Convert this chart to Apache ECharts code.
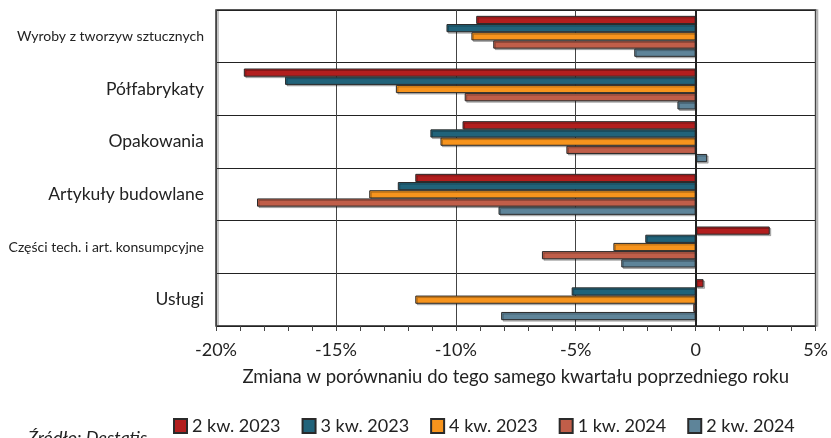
<!DOCTYPE html>
<html><head><meta charset="utf-8">
<script src="https://cdn.jsdelivr.net/npm/echarts@6/dist/echarts.min.js"></script>
<style>html,body{margin:0;padding:0;background:#fff}#c{width:831px;height:438px}</style>
</head><body><div id="c"></div>
<script>
const categories = ["Wyroby z tworzyw sztucznych","Półfabrykaty","Opakowania","Artykuły budowlane","Części tech. i art. konsumpcyjne","Usługi"];
const seriesNames = ["2 kw. 2023","3 kw. 2023","4 kw. 2023","1 kw. 2024","2 kw. 2024"];
const q2_2023 = [-9.15,-18.84,-9.72,-11.69,3.09,0.33];
const q3_2023 = [-10.39,-17.12,-11.06,-12.42,-2.10,-5.17];
const q4_2023 = [-9.35,-12.50,-10.64,-13.61,-3.43,-11.69];
const q1_2024 = [-8.44,-9.63,-5.39,-18.29,-6.41,-0.1];
const q2_2024 = [-2.56,-0.76,0.48,-8.22,-3.10,-8.11];
const xTicks = [-20,-15,-10,-5,0,5];
const colors = ["#B21E1E","#21637A","#F7941D","#C05E49","#5E8499"];
const values = [q2_2023,q3_2023,q4_2023,q1_2024,q2_2024];
const smallLabels = ["Wyroby z tworzyw sztucznych","Części tech. i art. konsumpcyjne"];

const chart = echarts.init(document.getElementById('c'));
const series = seriesNames.map((n,i)=>({
  name:n, type:'bar', data:values[i], barWidth:8.2, barGap:'0%',
  itemStyle:{color:colors[i], borderColor:'#2a2a2a', borderWidth:1,
    shadowColor:'rgba(0,0,0,0.25)', shadowOffsetX:1.5, shadowOffsetY:1.5, shadowBlur:0},
  markLine: i===0 ? {silent:true, symbol:'none', label:{show:false},
    lineStyle:{color:'#222', width:2, type:'solid'}, data:[{xAxis:0}]} : undefined
}));
chart.setOption({
  animation:false,
  textStyle:{fontFamily:'Lato'},
  grid:{left:216,right:12,top:10,bottom:112,show:true,borderColor:'#333',borderWidth:1.5,
    shadowColor:'rgba(0,0,0,0.3)', shadowOffsetX:2, shadowOffsetY:0, shadowBlur:0},
  legend:{data:seriesNames, left:168, top:412, itemWidth:13, itemHeight:14, itemGap:21,
    icon:'rect', textStyle:{fontFamily:'Lato',fontSize:18,color:'#222'}},
  xAxis:{type:'value', min:xTicks[0], max:xTicks[xTicks.length-1], interval:5,
    axisLine:{show:false},
    axisTick:{show:true, length:5, lineStyle:{color:'#444'}},
    minorTick:{show:true, splitNumber:5, length:5, lineStyle:{color:'#444'}},
    splitLine:{show:true, lineStyle:{color:'#444', width:1}},
    axisLabel:{margin:15, fontSize:18, color:'#222', fontFamily:'Lato',
      formatter:v=> v===0 ? '0' : v+'%'},
    name:'Zmiana w porównaniu do tego samego kwartału poprzedniego roku',
    nameLocation:'middle', nameGap:42,
    nameTextStyle:{fontSize:18.5,color:'#222',fontFamily:'Lato'}},
  yAxis:{type:'category', data:categories, inverse:true,
    axisLine:{show:false}, axisTick:{show:false},
    splitLine:{show:true, lineStyle:{color:'#222', width:1.2}},
    axisLabel:{margin:12, color:'#222', fontFamily:'Lato',
      formatter:v=> smallLabels.includes(v) ? '{s|'+v+'}' : '{b|'+v+'}',
      rich:{s:{fontSize:14,fontFamily:'Lato',color:'#222'},b:{fontSize:17.5,fontFamily:'Lato',color:'#222'}}}},
  graphic:[{type:'text', left:28, top:429,
    style:{text:'Źródło: Destatis', font:'italic 18px Lato', fill:'#222'}}],
  series
});
</script></body></html>
